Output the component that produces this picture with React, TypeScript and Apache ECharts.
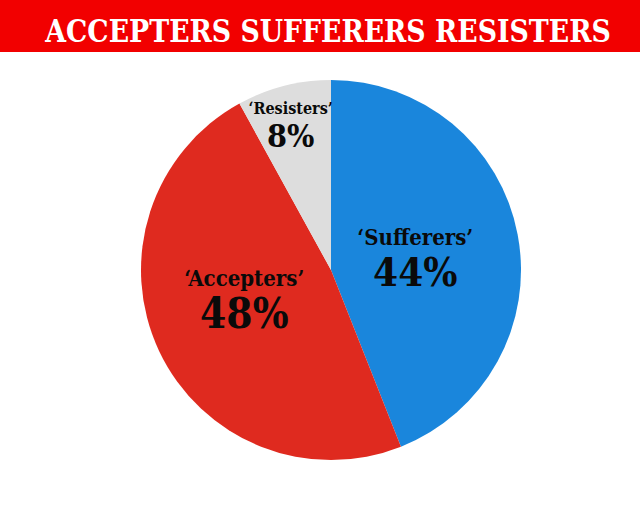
import React, { useEffect, useRef } from "react";
import * as echarts from "echarts";

const titleText = "ACCEPTERS SUFFERERS RESISTERS";
const categories = ["Sufferers", "Accepters", "Resisters"];
const values = [44, 48, 8];
const colors = ["#1a86dc", "#df2a1f", "#dddddd"];
const nameSizes = [22, 22, 16];
const valueSizes = [40, 42, 32];
const labelShift = [
  [-12, 6],
  [2, -12],
  [-16, -50],
];

const FONT = "'DejaVu Serif Condensed', 'DejaVu Serif', serif";

export default function App() {
  const ref = useRef<HTMLDivElement>(null);
  useEffect(() => {
    document.body.style.margin = "0";
    const chart = echarts.init(ref.current!, null, { renderer: "svg" });
    chart.setOption({
      animation: false,
      backgroundColor: "#ffffff",
      graphic: [
        {
          type: "rect",
          left: 0,
          top: 0,
          shape: { width: 640, height: 52 },
          style: { fill: "#f20000" },
          z: 0,
        },
        {
          type: "text",
          x: 328,
          y: 31,
          scaleX: 0.93,
          z: 1,
          style: {
            text: titleText,
            fill: "#ffffff",
            font: `bold 32px ${FONT}`,
            align: "center",
            verticalAlign: "middle",
          },
        },
      ],
      series: [
        {
          type: "pie",
          center: [331, 270],
          radius: 190,
          startAngle: 90,
          clockwise: true,
          silent: true,
          emphasis: { disabled: true },
          labelLine: { show: false },
          data: categories.map((c, i) => ({
            name: c,
            value: values[i],
            itemStyle: { color: colors[i] },
            label: {
              show: true,
              position: "inside",
              formatter: "{n|‘{b}’}\n{v|{c}%}",
              rich: {
                n: {
                  fontFamily: FONT,
                  fontWeight: "bold",
                  fontSize: nameSizes[i],
                  color: "#0a0a0a",
                  lineHeight: nameSizes[i] + 6,
                  align: "center",
                },
                v: {
                  fontFamily: FONT,
                  fontWeight: "bold",
                  fontSize: valueSizes[i],
                  color: "#0a0a0a",
                  lineHeight: valueSizes[i] + 2,
                  align: "center",
                },
              },
            },
          })),
          labelLayout: (p: any) => ({
            dx: labelShift[p.dataIndex][0],
            dy: labelShift[p.dataIndex][1],
          }),
        },
      ],
    });
    return () => chart.dispose();
  }, []);
  return <div ref={ref} style={{ width: 640, height: 515 }} />;
}
